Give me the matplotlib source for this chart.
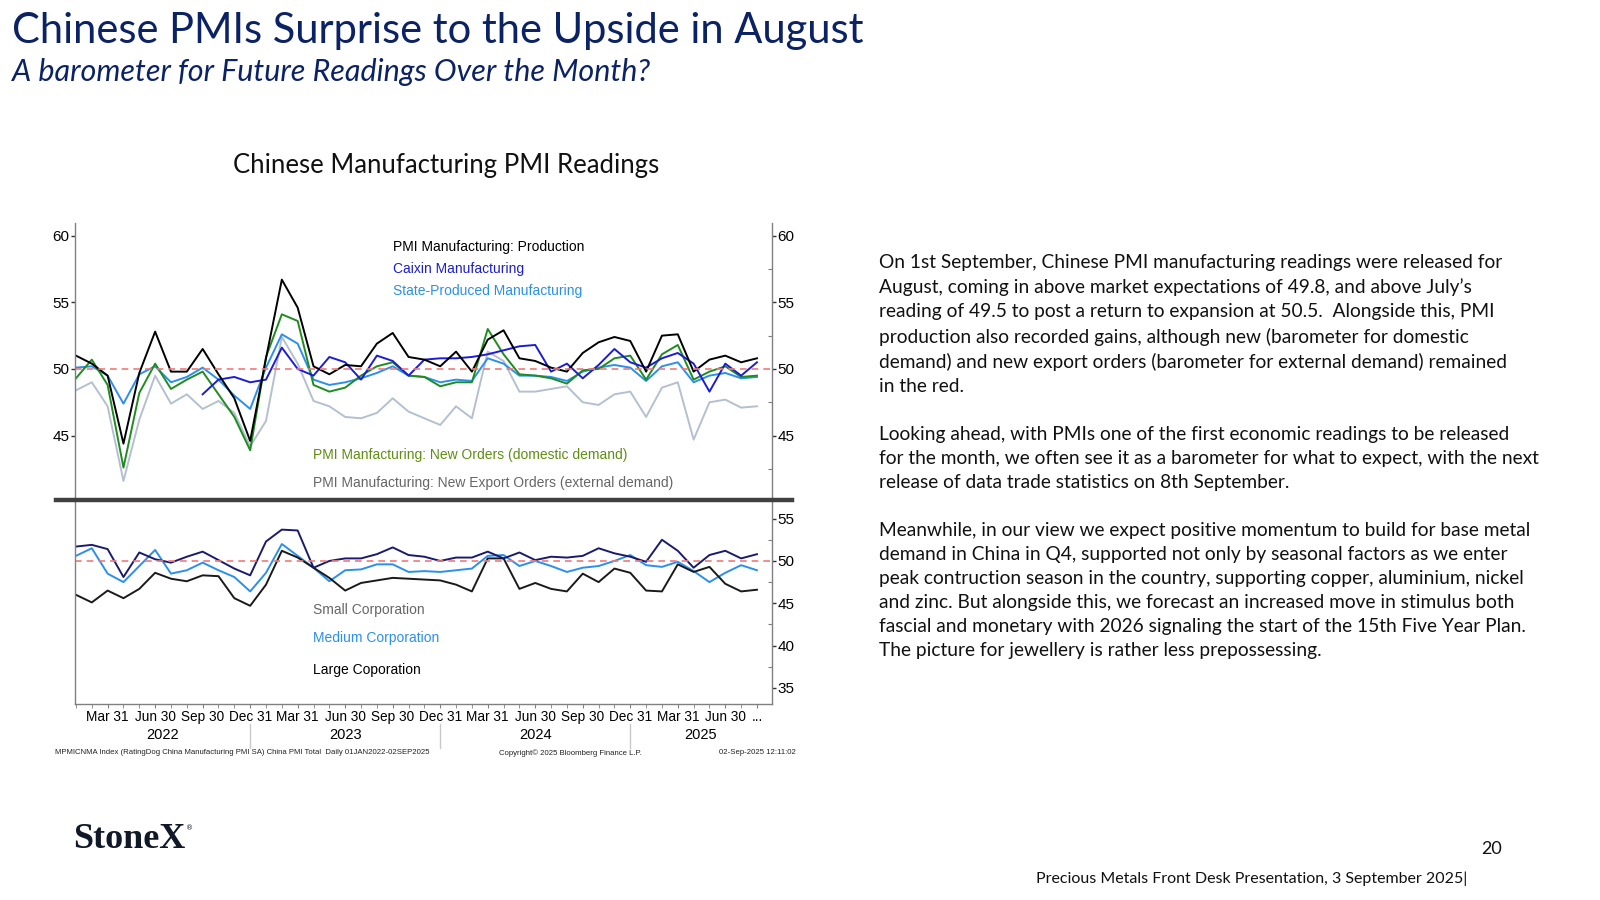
import numpy as np
import pandas as pd
import matplotlib.pyplot as plt
from matplotlib.ticker import MultipleLocator, FixedLocator
import matplotlib.transforms as mtransforms

# monthly readings, Jan 2022 .. Aug 2025
months = pd.period_range('2022-01', '2025-08', freq='M')

production = [51.0, 50.4, 49.5, 44.4, 49.7, 52.8, 49.8, 49.8, 51.5, 49.6, 47.8, 44.6,
              50.8, 56.7, 54.6, 50.2, 49.6, 50.3, 50.2, 51.9, 52.7, 50.9, 50.7, 50.2,
              51.3, 49.8, 52.2, 52.9, 50.8, 50.6, 50.1, 49.8, 51.2, 52.0, 52.4, 52.1,
              49.8, 52.5, 52.6, 49.8, 50.7, 51.0, 50.5, 50.8]
caixin = [np.nan] * 8 + [48.1, 49.2, 49.4, 49.0,
                         49.2, 51.6, 50.0, 49.5, 50.9, 50.5, 49.2, 51.0, 50.6, 49.5, 50.7, 50.8,
                         50.8, 50.9, 51.1, 51.4, 51.7, 51.8, 49.8, 50.4, 49.3, 50.3, 51.5, 50.5,
                         50.1, 50.8, 51.2, 50.4, 48.3, 50.4, 49.5, 50.5]
state_pmi = [50.1, 50.2, 49.5, 47.4, 49.6, 50.2, 49.0, 49.4, 50.1, 49.2, 48.0, 47.0,
             50.1, 52.6, 51.9, 49.2, 48.8, 49.0, 49.3, 49.7, 50.2, 49.5, 49.4, 49.0,
             49.2, 49.1, 50.8, 50.4, 49.5, 49.5, 49.4, 49.1, 49.8, 50.1, 50.3, 50.1,
             49.1, 50.2, 50.5, 49.0, 49.5, 49.7, 49.3, 49.4]
new_orders = [49.3, 50.7, 48.8, 42.6, 48.2, 50.4, 48.5, 49.2, 49.8, 48.1, 46.4, 43.9,
              50.9, 54.1, 53.6, 48.8, 48.3, 48.6, 49.5, 50.2, 50.5, 49.5, 49.4, 48.7,
              49.0, 49.0, 53.0, 51.1, 49.6, 49.5, 49.3, 48.9, 49.9, 50.0, 50.8, 51.0,
              49.2, 51.1, 51.8, 49.2, 49.8, 50.2, 49.4, 49.5]
export_orders = [48.4, 49.0, 47.2, 41.6, 46.2, 49.5, 47.4, 48.1, 47.0, 47.6, 46.7, 44.2,
                 46.1, 52.4, 50.4, 47.6, 47.2, 46.4, 46.3, 46.7, 47.8, 46.8, 46.3, 45.8,
                 47.2, 46.3, 51.3, 50.6, 48.3, 48.3, 48.5, 48.7, 47.5, 47.3, 48.1, 48.3,
                 46.4, 48.6, 49.0, 44.7, 47.5, 47.7, 47.1, 47.2]

large_corp = [51.7, 51.9, 51.4, 48.1, 51.0, 50.2, 49.8, 50.5, 51.1, 50.1, 49.1, 48.3,
              52.3, 53.7, 53.6, 49.2, 50.0, 50.3, 50.3, 50.8, 51.6, 50.7, 50.5, 50.0,
              50.4, 50.4, 51.1, 50.3, 51.0, 50.1, 50.5, 50.4, 50.6, 51.5, 50.9, 50.5,
              49.9, 52.5, 51.2, 49.2, 50.7, 51.2, 50.3, 50.8]
medium_corp = [50.6, 51.5, 48.5, 47.5, 49.4, 51.3, 48.5, 48.9, 49.8, 48.9, 48.1, 46.4,
               48.6, 52.0, 50.6, 49.2, 47.6, 48.9, 49.0, 49.6, 49.6, 48.7, 48.8, 48.7,
               48.9, 49.1, 50.6, 50.7, 49.4, 50.0, 49.4, 48.7, 49.2, 49.4, 50.0, 50.7,
               49.5, 49.3, 49.9, 48.8, 47.5, 48.6, 49.5, 48.9]
small_corp = [46.0, 45.1, 46.5, 45.6, 46.7, 48.6, 47.9, 47.6, 48.3, 48.2, 45.6, 44.7,
              47.2, 51.2, 50.4, 49.2, 48.0, 46.5, 47.4, 47.7, 48.0, 47.9, 47.8, 47.7,
              47.2, 46.4, 50.3, 50.3, 46.7, 47.4, 46.7, 46.4, 48.5, 47.5, 49.1, 48.6,
              46.5, 46.4, 49.6, 48.7, 49.3, 47.3, 46.4, 46.6]

quarter_labels = ['Mar 31', 'Jun 30', 'Sep 30', 'Dec 31'] * 3 + ['Mar 31', 'Jun 30', '...']
years = ['2022', '2023', '2024', '2025']

W, H = 1600, 900
NAVY = '#0b2265'
GREY_AX = '#808080'
NARROW = 'Liberation Sans'


def fx(px):
    return px / W


def fy(py):
    return 1 - py / H


x = np.arange(len(months))

fig = plt.figure(figsize=(16, 9), dpi=100)
fig.patch.set_facecolor('white')

# headings
fig.text(fx(12), fy(31), 'Chinese PMIs Surprise to the Upside in August', color=NAVY,
         fontsize=30, family='Lato', va='center', ha='left')
fig.text(fx(12), fy(72), 'A barometer for Future Readings Over the Month?', color=NAVY,
         fontsize=22, family='Lato', style='italic', va='center', ha='left')
fig.text(fx(446), fy(166), 'Chinese Manufacturing PMI Readings', color='#111111',
         fontsize=18.5, family='Lato', va='center', ha='center')

ax1 = fig.add_axes([fx(75), fy(500), fx(771.7 - 75), (500 - 223) / H])
ax2 = fig.add_axes([fx(75), fy(704), fx(771.7 - 75), (704 - 500) / H])

# top panel
ax1.plot(x, export_orders, color='#b4c0d0', lw=1.4)
ax1.plot(x, state_pmi, color='#2a8ff0', lw=1.4)
ax1.plot(x, new_orders, color='#1f8c1f', lw=1.4)
ax1.plot(x, caixin, color='#1c1cd8', lw=1.4)
ax1.plot(x, production, color='black', lw=1.4)
ax1.axhline(50, color='#f07a7a', lw=1.2, ls=(0, (4, 3)))
ax1.set_ylim(40.17, 60.95)

# bottom panel
ax2.plot(x, medium_corp, color='#2a8ff0', lw=1.4)
ax2.plot(x, small_corp, color='#1a1a1a', lw=1.4)
ax2.plot(x, large_corp, color='#1b1b6e', lw=1.4)
ax2.axhline(50, color='#f07a7a', lw=1.2, ls=(0, (4, 3)))
ax2.set_ylim(33.1, 57.2)

for ax in (ax1, ax2):
    ax.set_xlim(-0.06, 43.93)
    ax.spines['top'].set_visible(False)
    for s in ('left', 'right', 'bottom'):
        ax.spines[s].set_color(GREY_AX)
        ax.spines[s].set_linewidth(1)
    ax.yaxis.set_major_locator(MultipleLocator(5))
    ax.yaxis.set_minor_locator(MultipleLocator(2.5))
    ax.tick_params(axis='y', which='major', direction='out', length=3, width=1,
                   color='#333333', labelsize=11, pad=1, right=True, labelright=True)
    ax.tick_params(axis='y', which='minor', direction='in', length=3, width=0.8,
                   color=GREY_AX, left=False, right=True)

ax1.spines['bottom'].set_visible(False)
ax1.tick_params(axis='x', bottom=False, labelbottom=False)
ax1.set_yticks([45, 50, 55, 60])
ax1.set_yticks([42.5, 47.5, 52.5, 57.5], minor=True)
ax2.set_yticks([35, 40, 45, 50, 55])
ax2.tick_params(axis='y', which='major', left=False, labelleft=False)

# x axis of bottom panel
q_pos = list(range(2, 42, 3)) + [43]
ax2.xaxis.set_major_locator(FixedLocator(q_pos))
ax2.xaxis.set_minor_locator(FixedLocator(x))
ax2.set_xticklabels(quarter_labels, fontsize=9.8)
ax2.tick_params(axis='x', which='major', length=3, color=GREY_AX, pad=1.5)
ax2.tick_params(axis='x', which='minor', length=3, color=GREY_AX)

for ax in (ax1, ax2):
    for lab in ax.get_yticklabels() + ax.get_xticklabels():
        lab.set_family(NARROW)

trans = mtransforms.blended_transform_factory(ax2.transData, ax2.transAxes)
bounds = [-0.06, 11, 23, 35, 43.93]
for i, yr in enumerate(years):
    ax2.text((bounds[i] + bounds[i + 1]) / 2, -0.15, yr, transform=trans, ha='center',
             va='center', fontsize=10.5, family=NARROW)
for b in bounds[1:4]:
    ax2.plot([b, b], [-0.098, -0.216], transform=trans, color='#c8c8c8', lw=1, clip_on=False)

# separator between panels
fig.add_artist(plt.Line2D([fx(56), fx(792)], [fy(500), fy(500)], color='#404040', lw=3.2))

# series labels
lab_kw = dict(fontsize=10, family=NARROW, va='center', ha='left')
fig.text(fx(393), fy(247), 'PMI Manufacturing: Production', color='black', **lab_kw)
fig.text(fx(393), fy(269), 'Caixin Manufacturing', color='#1c1cd8', **lab_kw)
fig.text(fx(393), fy(291), 'State-Produced Manufacturing', color='#2a8ff0', **lab_kw)
fig.text(fx(313), fy(455), 'PMI Manfacturing: New Orders (domestic demand)', color='#5e8e12', **lab_kw)
fig.text(fx(313), fy(483), 'PMI Manufacturing: New Export Orders (external demand)', color='#666666', **lab_kw)
fig.text(fx(313), fy(610), 'Small Corporation', color='#666666', **lab_kw)
fig.text(fx(313), fy(638), 'Medium Corporation', color='#2a8ff0', **lab_kw)
fig.text(fx(313), fy(670), 'Large Coporation', color='black', **lab_kw)

# bloomberg source line
src_kw = dict(fontsize=5.6, family=NARROW, va='center', color='#222222')
fig.text(fx(55), fy(753), 'MPMICNMA Index (RatingDog China Manufacturing PMI SA) China PMI Total  Daily 01JAN2022-02SEP2025',
         ha='left', **src_kw)
fig.text(fx(570), fy(753), 'Copyright\u00a9 2025 Bloomberg Finance L.P.', ha='center', **src_kw)
fig.text(fx(796), fy(753), '02-Sep-2025 12:11:02', ha='right', **src_kw)

# commentary
para = ("On 1st September, Chinese PMI manufacturing readings were released for\n"
        "August, coming in above market expectations of 49.8, and above July\u2019s\n"
        "reading of 49.5 to post a return to expansion at 50.5.  Alongside this, PMI\n"
        "production also recorded gains, although new (barometer for domestic\n"
        "demand) and new export orders (barometer for external demand) remained\n"
        "in the red.\n\n"
        "Looking ahead, with PMIs one of the first economic readings to be released\n"
        "for the month, we often see it as a barometer for what to expect, with the next\n"
        "release of data trade statistics on 8th September.\n\n"
        "Meanwhile, in our view we expect positive momentum to build for base metal\n"
        "demand in China in Q4, supported not only by seasonal factors as we enter\n"
        "peak contruction season in the country, supporting copper, aluminium, nickel\n"
        "and zinc. But alongside this, we forecast an increased move in stimulus both\n"
        "fascial and monetary with 2026 signaling the start of the 15th Five Year Plan.\n"
        "The picture for jewellery is rather less prepossessing.")
fig.text(fx(879), fy(254), para, fontsize=13.8, family='Lato', color='#111111',
         va='top', ha='left', linespacing=1.5)

# footer
logo = fig.text(fx(73), fy(840), 'StoneX', fontsize=26, family='Liberation Serif', weight='bold',
                color='#111827', va='center', ha='left')
fig.canvas.draw()
bb = logo.get_window_extent()
fig.text(bb.x1 / W + 0.0005, fy(828), '\u00ae', fontsize=5, family='DejaVu Sans', color='#111827',
         va='center', ha='left')
fig.text(fx(1502), fy(849), '20', fontsize=13, family='Lato', color='#111111', va='center', ha='right')
fig.text(fx(1467), fy(879), 'Precious Metals Front Desk Presentation, 3 September 2025|', fontsize=11.5,
         family='Lato', color='#111111', va='center', ha='right')

fig.savefig('out.png', dpi=100)
